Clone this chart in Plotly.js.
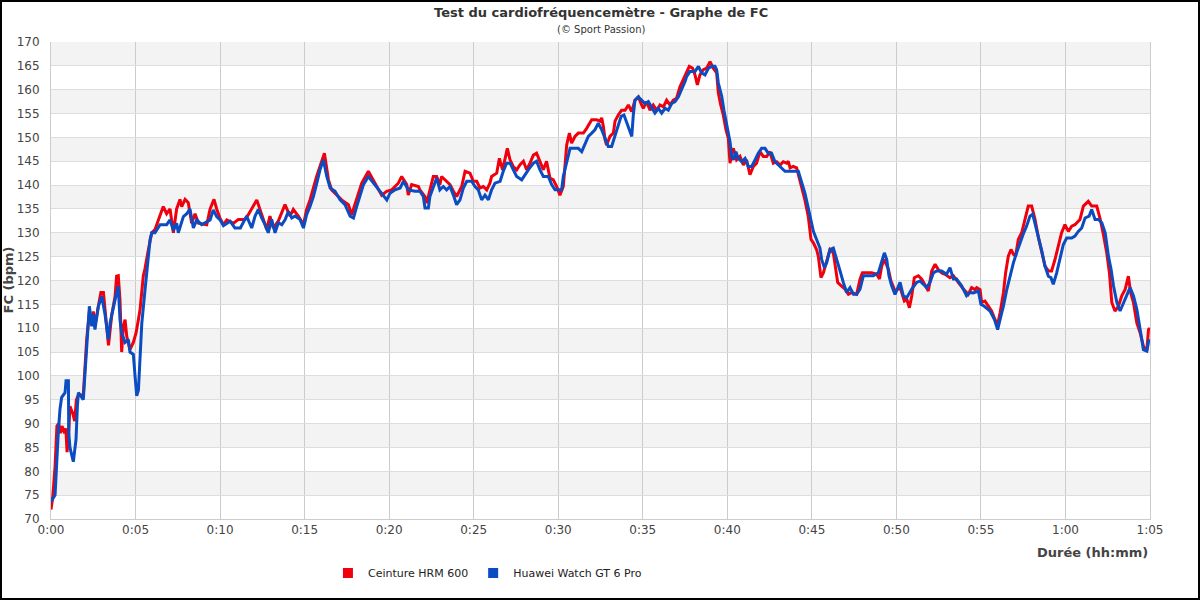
<!DOCTYPE html>
<html>
<head>
<meta charset="utf-8">
<script src="https://cdn.plot.ly/plotly-3.0.1.min.js"></script>
<style>
html,body{margin:0;padding:0;background:#fff;}
#chart{width:1196px;height:596px;border:2px solid #000;}
</style>
</head>
<body>
<div id="chart"></div>
<script>
const chartTitle = "Test du cardiofréquencemètre - Graphe de FC";
const chartSubtitle = "(© Sport Passion)";
const seriesNames = ["Ceinture HRM 600", "Huawei Watch GT 6 Pro"];
const seriesColors = ["#f0000c", "#0a4cc2"];
const tickMinutes = [0,5,10,15,20,25,30,35,40,45,50,55,60,65];
const tickLabels = ["0:00","0:05","0:10","0:15","0:20","0:25","0:30","0:35","0:40","0:45","0:50","0:55","1:00","1:05"];
const yTicks = [70,75,80,85,90,95,100,105,110,115,120,125,130,135,140,145,150,155,160,165,170];

const redMin = [0,0.1,0.24,0.35,0.45,0.55,0.65,0.8,0.88,0.95,1.03,1.12,1.3,1.4,1.5,1.62,1.91,2.01,2.11,2.27,2.41,2.5,2.6,2.8,2.95,3.1,3.19,3.4,3.6,3.79,3.88,3.98,4.08,4.18,4.28,4.38,4.48,4.67,4.87,5.03,5.17,5.27,5.46,5.56,5.76,5.96,6.15,6.45,6.64,6.84,7.04,7.24,7.43,7.63,7.73,7.93,8.12,8.32,8.52,8.72,9.21,9.41,9.64,9.8,10.0,10.2,10.4,10.8,11.08,11.48,11.67,12.17,12.36,12.76,12.95,13.15,13.45,13.84,14.14,14.33,14.63,14.93,15.12,15.32,15.71,15.91,16.17,16.41,16.6,17.19,17.59,17.78,18.08,18.38,18.77,19.17,19.56,19.85,20.15,20.54,20.74,21.04,21.13,21.33,21.73,21.82,22.12,22.22,22.41,22.61,22.81,23.0,23.1,23.4,23.6,23.8,23.99,24.29,24.49,24.78,24.98,25.18,25.37,25.57,25.77,25.96,26.06,26.36,26.52,26.71,26.91,26.99,27.15,27.34,27.54,27.74,27.94,28.13,28.33,28.53,28.72,28.92,29.12,29.31,29.51,29.71,29.91,30.1,30.3,30.5,30.66,30.79,30.99,31.19,31.49,31.68,31.98,32.27,32.47,32.57,32.67,32.77,32.86,33.06,33.26,33.36,33.55,33.75,33.95,34.15,34.34,34.54,34.74,34.93,35.03,35.23,35.43,35.62,35.82,36.02,36.22,36.41,36.61,36.81,37.0,37.2,37.4,37.6,37.75,37.95,38.09,38.23,38.38,38.58,38.78,38.98,39.17,39.37,39.47,39.61,39.76,39.92,40.06,40.16,40.26,40.36,40.55,40.75,40.95,41.14,41.34,41.54,41.73,41.93,42.13,42.33,42.52,42.72,42.92,43.12,43.31,43.51,43.61,43.71,43.9,44.1,44.24,44.4,44.59,44.79,44.95,45.09,45.28,45.38,45.54,45.68,45.88,46.07,46.27,46.41,46.53,46.73,46.96,47.16,47.35,47.65,47.85,47.99,48.25,48.54,48.84,49.0,49.13,49.29,49.53,49.68,49.92,50.22,50.47,50.61,50.77,50.91,51.06,51.3,51.5,51.7,51.89,52.09,52.29,52.48,52.68,52.88,53.17,53.37,53.66,53.96,54.25,54.45,54.65,54.75,54.95,55.04,55.24,55.44,55.63,55.83,55.99,56.13,56.33,56.46,56.62,56.78,56.92,57.05,57.21,57.41,57.61,57.8,58.0,58.2,58.4,58.6,58.79,58.99,59.18,59.38,59.58,59.77,59.97,60.17,60.37,60.56,60.86,61.06,61.35,61.55,61.85,62.04,62.24,62.44,62.6,62.74,62.93,63.13,63.33,63.53,63.72,63.86,64.02,64.22,64.42,64.61,64.81,64.91,65.0];
const redBpm = [72,74.5,81,89.5,90,88,89.5,88,89,84,87,93.6,92,90.5,95,96,96,102,107.6,113.5,111,113.5,110.5,114.6,117.5,117.5,114,106.4,113,116.7,120.9,121,116,105,110.4,111.8,108.3,105.5,107,109,111.8,114,121,122.5,126.5,130,130.7,133.4,135.5,134,135,130,135,137,135.5,137,136.3,132,134,132,131.7,135,137,135,133,131.7,132.7,132,132.8,132.8,133.8,136.9,134.9,130.7,133.5,131,132.5,135.9,133.5,134.9,133.5,131.7,134.9,136.9,141.8,143.9,146.7,141.1,139,136.9,135.9,133.8,136.9,140.4,142.9,140.4,137.9,138.7,139,140.4,141.8,140.1,137.9,140.1,139.7,139,137.6,136.2,139,141.8,141.8,140.1,141.8,140.8,140.1,138.7,137.6,139.7,142.9,142.5,140.8,140.8,139.4,139.7,139,140.4,141.8,142.5,145.6,143.2,146,147.7,145.3,143.9,143.2,144.3,145,143.2,144.6,146.3,146.7,145,143.2,145,141.5,141.1,139.7,137.9,139.7,148.4,150.9,148.8,150.2,150.9,150.9,151.9,153.7,153.7,153.4,154.1,152.3,149.5,148.4,150.2,150.9,153.4,154.7,155.7,155.7,156.8,155.4,157.8,158.5,156.8,156.1,157.5,155.7,156.8,155.7,156.8,156.4,157.8,156.8,157.8,158.2,160.6,162.1,163.5,164.9,164.5,163.1,161,163.1,164.2,164.5,165.9,164.5,163.5,159.3,156.8,154.7,151.6,149.8,144.6,146.7,147.7,145.3,146,144.2,145.3,142.2,143.9,144.6,147,146,146,147,144.6,144.9,144.2,144.9,144.6,145,143.6,143.9,143.6,141.8,139.7,136.9,133.4,128.6,127.9,126.5,125.1,120.6,121.6,124.4,126.5,125.8,122.3,119.6,118.9,118.2,117.1,117.5,117.1,120.3,121.6,121.6,121.6,121.3,120.3,123,124.4,122.3,119.9,117.8,118.5,115.7,116.1,114.3,116.8,120.6,121,120.3,118.9,117.8,122,123.4,122.3,121.6,121.3,120.6,121,119.6,118.2,117.1,118.5,118.1,118.5,118.1,115.4,115.7,114.6,113.6,111.8,110.8,113.2,117.4,121.6,125.1,126.5,125.5,125.1,128.6,130,132.8,135.6,135.6,132.8,129,126.2,123,122,122,124.4,127.2,130,131.7,130.3,131.4,131.7,132.8,135.6,136.6,135.6,135.6,133.1,129.7,125.8,121.6,115.4,113.6,114.6,116.8,118.1,120.9,117.4,115.4,111.1,109,106.2,105.2,109.7,110];

const blueMin = [0,0.24,0.43,0.53,0.63,0.83,0.89,1.03,1.05,1.12,1.32,1.48,1.56,1.62,1.91,2.01,2.11,2.27,2.41,2.5,2.6,2.8,3.0,3.19,3.39,3.49,3.79,3.98,4.08,4.18,4.38,4.58,4.67,4.87,4.97,5.07,5.17,5.27,5.37,5.56,5.66,5.86,5.96,6.15,6.45,6.84,7.04,7.24,7.43,7.53,7.83,8.03,8.22,8.42,8.62,8.91,9.41,9.6,9.8,10.0,10.2,10.6,10.88,11.2,11.57,11.87,12.07,12.26,12.46,12.66,12.85,13.05,13.25,13.45,13.65,13.85,14.04,14.24,14.43,14.73,14.93,15.12,15.32,15.52,15.72,15.91,16.11,16.31,16.51,16.8,17.1,17.39,17.69,17.89,18.08,18.28,18.48,18.77,19.07,19.36,19.66,19.86,20.05,20.35,20.65,20.84,21.14,21.53,21.82,22.02,22.12,22.32,22.41,22.61,22.81,23.0,23.2,23.4,23.6,23.8,23.99,24.19,24.39,24.59,24.88,25.08,25.27,25.47,25.67,25.87,26.06,26.26,26.56,26.75,26.95,27.15,27.35,27.54,27.84,28.04,28.23,28.53,28.72,28.92,29.12,29.41,29.61,29.81,30.0,30.2,30.3,30.5,30.7,30.99,31.19,31.39,31.59,31.78,31.98,32.17,32.37,32.57,32.77,32.96,33.16,33.35,33.55,33.72,33.89,34.05,34.25,34.35,34.44,34.54,34.74,34.94,35.13,35.33,35.53,35.72,35.92,36.12,36.32,36.51,36.71,36.91,37.11,37.3,37.5,37.6,37.79,38.09,38.29,38.48,38.68,38.88,39.08,39.27,39.37,39.47,39.57,39.67,39.8,39.92,40.06,40.16,40.26,40.36,40.51,40.65,40.85,41.05,41.24,41.44,41.64,41.83,42.03,42.23,42.42,42.62,42.82,43.12,43.41,44.2,44.4,44.59,44.79,44.95,45.09,45.28,45.48,45.58,45.74,45.88,46.07,46.27,46.47,46.67,46.86,47.06,47.26,47.46,47.65,47.85,48.05,48.34,48.64,48.93,49.13,49.29,49.43,49.56,49.72,49.92,50.22,50.41,50.61,50.91,51.2,51.4,51.6,51.79,51.99,52.19,52.38,52.68,52.97,53.17,53.37,53.56,53.86,54.15,54.35,54.55,54.85,55.0,55.2,55.54,55.8,55.99,56.13,56.33,56.53,56.72,56.92,57.11,57.31,57.5,57.7,57.9,58.06,58.24,58.4,58.6,58.79,58.99,59.14,59.28,59.48,59.67,59.87,60.07,60.37,60.56,60.76,60.96,61.16,61.4,61.55,61.75,61.95,62.15,62.35,62.54,62.7,62.84,63.04,63.23,63.43,63.63,63.82,64.02,64.22,64.42,64.61,64.81,64.94,65.0];
const blueBpm = [73.6,75,88,93,95.5,96.5,99,99,88,85,82,86.7,93.6,96.5,95,100.7,107.6,114.6,110.4,113,109.7,114.6,116.7,113,107.6,111,116,118.8,111.8,109,107,107.6,105,104.5,100,95.8,97,104.5,111,118,121.6,128.6,130,130,131.7,131.7,132.7,130.5,132,130,133.4,134,135,131,132.7,131.7,132.7,134.8,133.4,132.7,131.5,132.4,131,131,133.5,131,133.5,134.9,133.1,131.7,130,132.8,130,132.1,131.7,132.8,134.5,133.1,133.5,132.8,131,133.8,135.5,137.6,140.4,143.2,145.3,141.8,139.4,138.7,136.9,135.9,133.5,133.1,135.5,137.6,140.1,141.8,140.4,139,137.6,136.9,138.3,139,139.4,140.8,139,138.7,138.7,137.6,135.2,135.2,137.6,139.7,141.5,139,139.7,139,139.7,137.9,135.9,136.9,139.4,140.8,140.8,139.7,139,136.9,137.9,136.9,139,140.4,140.8,142.9,144.6,144.6,143.2,141.8,141.1,142.2,143.2,144.6,145,143.2,141.8,141.8,140.1,139,139,139,141.8,145,147.7,147.7,147.7,147,148.8,150.2,150.9,151.6,153,151.6,149.8,148.1,148.1,150.2,152.3,154.4,154.7,153,151.2,150.2,154.7,157.8,158.5,157.8,157.1,157.5,156.1,155.1,156.1,155.1,156.1,155.7,157.1,157.5,158.5,160,161.7,162.8,163.8,163.8,164.9,163.5,163.1,164.5,164.9,164.9,164.2,161.4,160,158.6,155.7,153.6,150.8,149.1,146,145.3,147,145.6,144.9,145.6,143.9,143.9,145.3,146.7,147.7,147.7,146.7,146.7,144.9,143.9,142.9,142.9,140.4,138.3,135.2,132.4,130.3,128.6,126.8,124.4,122.7,123.7,126.5,126.8,124.1,122,119.6,117.5,118.5,117.1,117.1,118.2,121,121,121,121.6,124.1,125.8,124.4,121,118.9,117.1,119.6,116.8,116.4,118.2,119.6,119.9,119.2,118.5,119.6,121.6,122,122,121.3,122.7,120.3,120.3,118.9,116.8,117.5,117.4,117.8,115,114.6,113.6,111.8,109.7,111.8,114.6,118.1,120.9,123.7,125.8,127.9,129.7,131.4,133.5,133.9,131.4,128.6,126.2,123,120.9,120.6,119.2,121.6,124.4,127.5,128.9,128.9,129.3,130.3,131,133.1,133.5,134.9,132.8,132.8,132.1,130,125.1,122.3,118.9,115.4,113.6,115.4,116.8,118.5,116.8,114,109.7,105.5,105.2,107.6,107];

const FONT = "DejaVu Sans, sans-serif";

const bandShapes = [];
for (let v = 75; v < 170; v += 10) {
  bandShapes.push({type:"rect", xref:"paper", yref:"y", x0:0, x1:1, y0:v, y1:v+5,
    fillcolor:"#f3f3f3", line:{width:0}, layer:"below"});
}

const traces = [
  {x: redMin, y: redBpm, name: seriesNames[0], type: "scatter", mode: "lines",
   legendgroup: "a", showlegend: false, line: {color: seriesColors[0], width: 3}},
  {x: blueMin, y: blueBpm, name: seriesNames[1], type: "scatter", mode: "lines",
   legendgroup: "b", showlegend: false, line: {color: seriesColors[1], width: 3}},
  {x: [null], y: [null], name: seriesNames[0], type: "scatter", mode: "markers",
   legendgroup: "a", marker: {symbol: "square", size: 10, color: seriesColors[0]}},
  {x: [null], y: [null], name: seriesNames[1], type: "scatter", mode: "markers",
   legendgroup: "b", marker: {symbol: "square", size: 10, color: seriesColors[1]}}
];

const layout = {
  width: 1196, height: 596,
  margin: {l: 49, r: 48, t: 40, b: 78},
  paper_bgcolor: "#ffffff", plot_bgcolor: "#ffffff",
  font: {family: FONT, size: 12, color: "#444"},
  showlegend: true,
  legend: {orientation: "h", x: 0.252, xanchor: "left", y: -0.111, yanchor: "middle",
    font: {family: FONT, size: 11, color: "#222"}, itemwidth: 30, tracegroupgap: 0},
  xaxis: {range: [0, 65], tickvals: tickMinutes, ticktext: tickLabels,
    showgrid: true, gridcolor: "#cccccc", gridwidth: 1, zeroline: false,
    showline: true, linecolor: "#cccccc", mirror: false,
    tickfont: {family: FONT, size: 12, color: "#444"}, ticks: ""},
  yaxis: {range: [70, 170], tickvals: yTicks, showgrid: true, gridcolor: "#dddddd",
    gridwidth: 1, zeroline: false, showline: true, linecolor: "#cccccc", mirror: true,
    tickfont: {family: FONT, size: 12, color: "#444"}, ticks: "", ticklabelstandoff: 8},
  shapes: bandShapes,
  annotations: [
    {text: "<b>" + chartTitle + "</b>", xref: "paper", yref: "paper", x: 0.5, y: 1,
     yanchor: "middle", yshift: 30, showarrow: false, font: {family: FONT, size: 13, color: "#333"}},
    {text: chartSubtitle, xref: "paper", yref: "paper", x: 0.5, y: 1, yanchor: "middle",
     yshift: 13, showarrow: false, font: {family: FONT, size: 10, color: "#333"}},
    {text: "<b>FC (bpm)</b>", xref: "paper", yref: "paper", x: 0, y: 0.5, xanchor: "center",
     yanchor: "middle", xshift: -43, textangle: -90, showarrow: false,
     font: {family: FONT, size: 13, color: "#444"}},
    {text: "<b>Durée (hh:mm)</b>", xref: "paper", yref: "paper", x: 1, y: 0, yshift: -33,
     xanchor: "right", yanchor: "middle", showarrow: false,
     font: {family: FONT, size: 13, color: "#444"}}
  ]
};

Plotly.newPlot("chart", traces, layout, {displayModeBar: false, staticPlot: true});
</script>
</body>
</html>
